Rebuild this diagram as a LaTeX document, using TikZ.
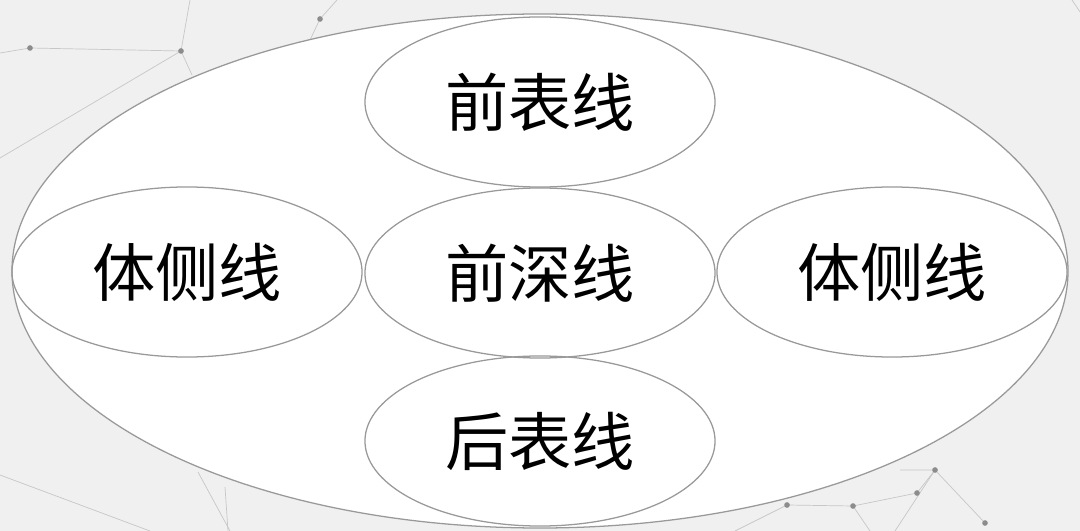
\documentclass[tikz,border=0pt]{standalone}
\usepackage{fontspec}
\newfontfamily\cjk{Noto Sans CJK SC}
\usetikzlibrary{shapes.geometric}

\begin{document}
\begin{tikzpicture}[x=0.025cm, y=-0.025cm,
    ring/.style={draw=black!40, line width=0.9pt},
    zone/.style={ring, ellipse, inner sep=0pt, minimum width=8.75cm, minimum height=4.25cm,
                 font=\cjk\fontsize{45}{50}\selectfont},
    net/.style={draw=black!22, line width=0.5pt},
    dot/.style={fill=black!45, circle, inner sep=0pt, minimum size=4pt}]
% background
\fill[black!6] (0,0) rectangle (1080,531);
\useasboundingbox (0,0) rectangle (1080,531);
% faint network
\draw[net] (0,53) -- (30,48) -- (181,51) -- (0,158);
\draw[net] (181,51) -- (190,0);
\draw[net] (181,51) -- (192,75);
\draw[net] (310,40) -- (320,19) -- (337,0);
\draw[net] (0,475) -- (150,531);
\draw[net] (198,472) -- (230,531);
\draw[net] (225,487) -- (228,531);
\draw[net] (735,531) -- (787,505) -- (853,506) -- (870,531);
\draw[net] (853,506) -- (917,493) -- (935,470) -- (985,523);
\draw[net] (900,470) -- (935,470) -- (895,531);
\draw[net] (1072,0) -- (1080,12);
\foreach \p in {(30,48), (181,51), (320,19), (787,505), (853,506), (917,493), (935,470), (985,523)}
    \node[dot] at \p {};
% outer ellipse
\draw[ring, fill=white] (540,271) ellipse (528 and 257);
% the five zones
\node[zone] (ftop) at (540,102) {前表线};
\node[zone] (fdeep) at (540,273) {前深线};
\node[zone] (fback) at (540,441) {后表线};
\node[zone] (sleft) at (187,272) {体侧线};
\node[zone] (sright) at (892,272) {体侧线};
\end{tikzpicture}
\end{document}
